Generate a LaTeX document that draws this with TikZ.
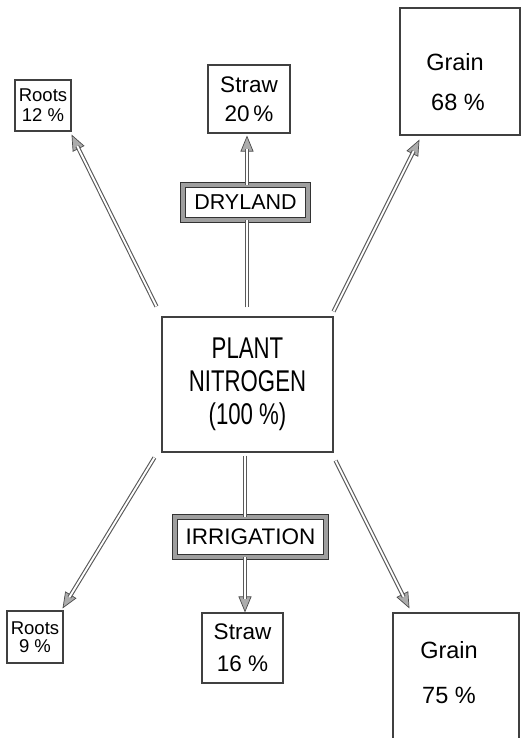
\documentclass[tikz,border=0pt]{standalone}
\usepackage{fontspec}
\setmainfont{Liberation Sans}
\newfontfamily\condensed[FakeStretch=0.74]{Liberation Sans}
\usetikzlibrary{arrows.meta}
\tikzset{
  box/.style={draw=black!75, line width=1.1pt, inner sep=0pt, align=center, fill=white},
  label/.style={inner sep=0pt, align=center},
  tagbox/.style={draw=black!80, double=gray!75, double distance=3.4pt, line width=0.9pt, inner sep=0pt, fill=white},
  headline/.style={draw=black!70, line width=0.7pt, -{Triangle[length=16pt,width=13pt,fill=gray!65]}},
  shaft/.style={draw=black!65, line width=1.1pt, double=white, double distance=1.9pt},
}
\begin{document}
\begin{tikzpicture}[x=1pt,y=-1pt]
\clip (0,0) rectangle (521,738);
\fill[white] (0,0) rectangle (521,738);

% boxes
\node[box, minimum width=56pt, minimum height=51pt, font=\fontsize{18.5}{20}\selectfont] (r12) at (43,105.5) {Roots\\12 \%};
\node[box, minimum width=82pt, minimum height=68pt, font=\fontsize{22.5}{29}\selectfont] (s20) at (249,99) {Straw\\20\,\%};
\node[box, minimum width=120pt, minimum height=127pt] (g68) at (460,71.5) {};
\node[label, font=\fontsize{23.5}{40}\selectfont] (g68t) at (455,82) {Grain\\\hspace*{6pt}68 \%};
\node[tagbox, minimum width=125pt, minimum height=35pt, font=\fontsize{21.5}{24}\selectfont] (dry) at (245.5,202.5) {DRYLAND};
\node[box, minimum width=171pt, minimum height=135pt, font=\condensed\fontsize{30}{33}\selectfont] (plant) at (247.5,384.5) {PLANT\\NITROGEN\\(100 \%)};
\node[tagbox, minimum width=151pt, minimum height=40pt, font=\fontsize{22.5}{24}\selectfont] (irr) at (250.5,537) {IRRIGATION};
\node[box, minimum width=56pt, minimum height=52pt, font=\fontsize{18.5}{18}\selectfont] (r9) at (35,637) {Roots\\9 \%};
\node[box, minimum width=81pt, minimum height=70pt, font=\fontsize{22.5}{32}\selectfont] (s16) at (242.5,648) {Straw\\16 \%};
\node[box, minimum width=126pt, minimum height=127pt] (g75) at (456,676.5) {};
\node[label, font=\fontsize{23.5}{45}\selectfont] (g75t) at (449,673) {Grain\\75 \%};

% helper coordinates
\coordinate (vt) at (247,0);
\coordinate (vb) at (245,0);
\coordinate (t1) at ([xshift=-5pt,yshift=10pt]plant.north west);
\coordinate (t3) at ([yshift=5pt]plant.north east);
\coordinate (t4) at ([xshift=-7pt,yshift=-5pt]plant.south west);
\coordinate (t6) at ([xshift=2pt,yshift=-8pt]plant.south east);
\coordinate (tp) at ([yshift=9pt]plant.north);
\coordinate (h1) at ([yshift=-3pt]r12.south east);
\coordinate (h3) at ([xshift=20pt,yshift=-4pt]g68.south west);
\coordinate (h4) at ([xshift=-1pt,yshift=2pt]r9.north east);
\coordinate (h6) at ([xshift=17pt,yshift=4pt]g75.north west);

% arrows with heads
\foreach \a/\b in {t1/h1, t3/h3, t4/h4, t6/h6}{
  \draw[headline] (\a) -- (\b);
  \draw[shaft, shorten >=13pt] (\a) -- (\b);
}
\draw[headline] (dry.north -| vt) -- ([yshift=-2pt]s20.south -| vt);
\draw[shaft, shorten >=13pt] (dry.north -| vt) -- ([yshift=-2pt]s20.south -| vt);
\draw[headline] (irr.south -| vb) -- (s16.north -| vb);
\draw[shaft, shorten >=13pt] (irr.south -| vb) -- (s16.north -| vb);

% plain shafts
\draw[shaft] (tp -| vt) -- (dry.south -| vt);
\draw[shaft] ([yshift=-3pt]plant.south -| vb) -- (irr.north -| vb);
\end{tikzpicture}
\end{document}
